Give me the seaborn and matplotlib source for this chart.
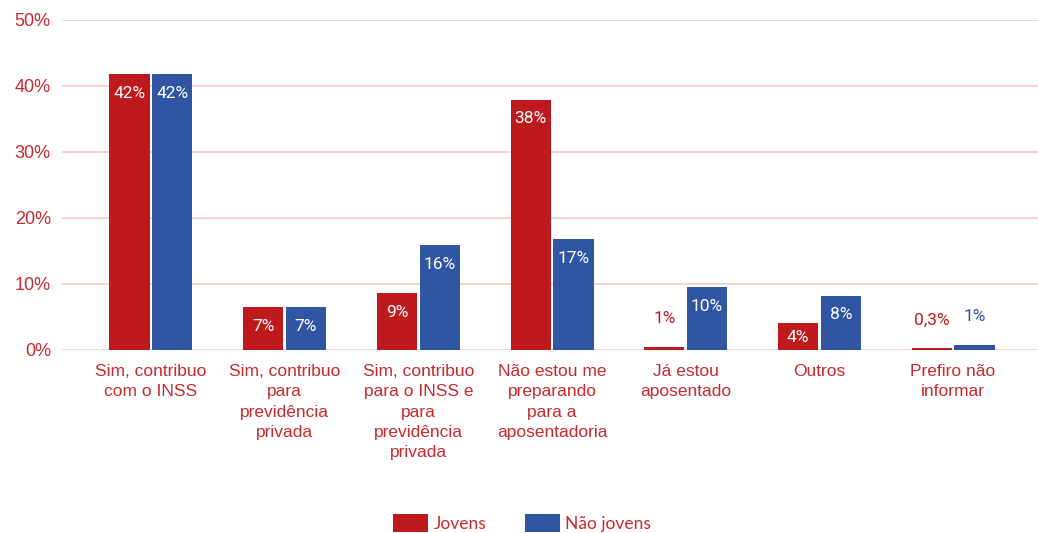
import numpy as np
import pandas as pd
import matplotlib
matplotlib.use("Agg")
import matplotlib.pyplot as plt
import seaborn as sns
from matplotlib.patches import Patch

categories = [
    "Sim, contribuo\ncom o INSS",
    "Sim, contribuo\npara\nprevidência\nprivada",
    "Sim, contribuo\npara o INSS e\npara\nprevidência\nprivada",
    "Não estou me\npreparando\npara a\naposentadoria",
    "Já estou\naposentado",
    "Outros",
    "Prefiro não\ninformar",
]
jovens = [41.8, 6.5, 8.6, 37.9, 0.5, 4.1, 0.3]
nao_jovens = [41.8, 6.5, 15.9, 16.8, 9.5, 8.2, 0.8]
jovens_labels = ["42%", "7%", "9%", "38%", "1%", "4%", "0,3%"]
nao_jovens_labels = ["42%", "7%", "16%", "17%", "10%", "8%", "1%"]
series = ["Jovens", "Não jovens"]
yticks = [0, 10, 20, 30, 40, 50]

RED = "#be1a1d"
BLUE = "#2f55a3"
TXT = "#c8292c"
GRID = "#f5c9c9"

df = pd.DataFrame({
    "cat": categories * 2,
    "grupo": ["Jovens"] * 7 + ["Não jovens"] * 7,
    "valor": jovens + nao_jovens,
})

sns.set_style("white")
plt.rcParams["font.family"] = ["Liberation Sans", "DejaVu Sans"]

fig = plt.figure(figsize=(10.38, 5.33), dpi=100)
ax = fig.add_axes([62 / 1038, 183 / 533, (1038 - 62) / 1038, 330 / 533])

sns.barplot(data=df, x="cat", y="valor", hue="grupo", palette=[RED, BLUE],
            width=0.64, gap=0.06, ax=ax, legend=False, errorbar=None,
            saturation=1, linewidth=0)

ax.set_xlim(-0.665, 6.635)
ax.set_ylim(0, 50)
ax.set_yticks(yticks)
ax.set_yticklabels([f"{t}%" for t in yticks])
for y in yticks:
    ax.axhline(y, color=GRID, lw=1.2, zorder=0)
for s in ax.spines.values():
    s.set_visible(False)
ax.tick_params(axis="y", length=0, pad=8, labelcolor=TXT, labelsize=13)
ax.tick_params(axis="x", length=0, pad=10, labelcolor=TXT, labelsize=12.5)
ax.set_xlabel("")
ax.set_ylabel("")
for lab in ax.get_xticklabels():
    lab.set_linespacing(1.45)
    lab.set_verticalalignment("top")

# value labels
for cont, labels, col in zip(ax.containers, [jovens_labels, nao_jovens_labels], [RED, BLUE]):
    for bar, lab in zip(cont, labels):
        h = bar.get_height()
        xc = bar.get_x() + bar.get_width() / 2
        if h < 3:
            ax.annotate(lab, (xc, h), xytext=(0, 28), textcoords="offset pixels",
                        ha="center", va="center", color=col, fontsize=12.5,
                        fontfamily=["Roboto", "DejaVu Sans"])
        else:
            off = -15 if h < 5 else -19
            ax.annotate(lab, (xc, h), xytext=(0, off), textcoords="offset pixels",
                        ha="center", va="center", color="white", fontsize=12.5,
                        fontfamily=["Roboto", "DejaVu Sans"])

handles = [Patch(facecolor=RED, edgecolor="none"), Patch(facecolor=BLUE, edgecolor="none")]
leg = fig.legend(handles, series, loc="center", bbox_to_anchor=(0.503, 1 - 523 / 533),
                 ncol=2, frameon=False, handlelength=2.05,
                 handleheight=1.25, handletextpad=0.3, columnspacing=2.2,
                 prop={"family": "Lato", "size": 12.5})
for t in leg.get_texts():
    t.set_color(TXT)

fig.savefig("out.png", dpi=100)
